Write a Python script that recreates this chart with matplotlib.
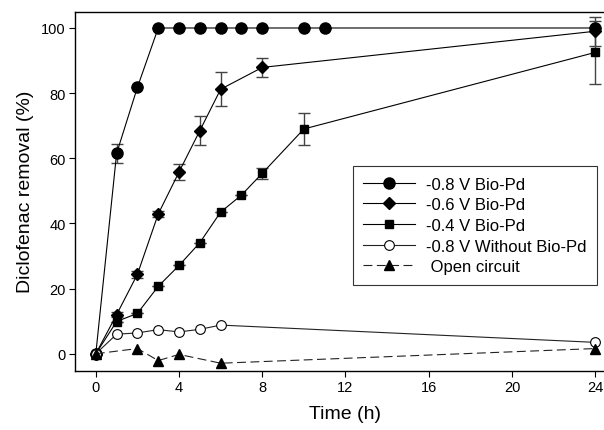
import numpy as np
import matplotlib
matplotlib.use("Agg")
import matplotlib.pyplot as plt

plt.rcParams['font.family'] = ['Liberation Sans', 'DejaVu Sans']

# data
t_08 = [0, 1, 2, 3, 4, 5, 6, 7, 8, 10, 11, 24]
y_08 = [0, 61.5, 81.8, 100, 100, 100, 100, 100, 100, 100, 100, 100]
e_08 = [0, 3.0, 0, 0, 0, 0, 0, 0, 0, 0, 0, 0]

t_06 = [0, 1, 2, 3, 4, 5, 6, 8, 24]
y_06 = [0, 12.0, 24.4, 42.9, 55.8, 68.5, 81.2, 87.9, 99.0]
e_06 = [0, 0.8, 1.0, 1.0, 2.4, 4.4, 5.2, 3.0, 4.5]

t_04 = [0, 1, 2, 3, 4, 5, 6, 7, 8, 10, 24]
y_04 = [0, 9.9, 12.4, 20.7, 27.1, 34.1, 43.5, 48.7, 55.4, 69.0, 92.5]
e_04 = [0, 0, 0, 0, 0, 0, 0, 0, 1.7, 4.8, 9.7]

t_nopd = [0, 1, 2, 3, 4, 5, 6, 24]
y_nopd = [0, 6.0, 6.4, 7.4, 6.7, 7.5, 8.8, 3.5]

t_oc = [0, 2, 3, 4, 6, 24]
y_oc = [0, 1.6, -2.1, -0.2, -2.9, 1.6]

labels = ['-0.8 V Bio-Pd', '-0.6 V Bio-Pd', '-0.4 V Bio-Pd',
          '-0.8 V Without Bio-Pd', ' Open circuit']

fig = plt.figure(figsize=(6.04, 4.31), dpi=100)
ax = fig.add_axes([75 / 604, 59.3 / 431, 541 / 604, 359 / 431])

ebar = dict(fmt='none', ecolor='#444444', elinewidth=1.0, capsize=4, capthick=1.0, zorder=2)
ax.errorbar(t_08, y_08, yerr=e_08, **ebar)
ax.errorbar(t_06, y_06, yerr=e_06, **ebar)
ax.errorbar(t_04, y_04, yerr=e_04, **ebar)

ax.plot(t_08, y_08, '-', color='black', lw=0.8, marker='o', ms=8, mfc='black', mec='black', label=labels[0], zorder=3)
ax.plot(t_06, y_06, '-', color='black', lw=0.8, marker='D', ms=6.5, mfc='black', mec='black', label=labels[1], zorder=3)
ax.plot(t_04, y_04, '-', color='black', lw=0.8, marker='s', ms=6, mfc='black', mec='black', label=labels[2], zorder=3)
ax.plot(t_nopd, y_nopd, '-', color='#222222', lw=0.8, marker='o', ms=7, mfc='white', mec='black', mew=0.8, label=labels[3], zorder=3)
ax.plot(t_oc, y_oc, '--', color='#222222', lw=0.8, dashes=(8, 4), marker='^', ms=7, mfc='black', mec='black', label=labels[4], zorder=3)

ax.set_xlim(-1, 25)
ax.set_ylim(-5.2, 105)
ax.set_xticks([0, 4, 8, 12, 16, 20, 24])
ax.set_yticks([0, 20, 40, 60, 80, 100])
ax.tick_params(direction='out', length=4, width=0.8, labelsize=10.5, pad=2.5)
for s in ax.spines.values():
    s.set_linewidth(1.0)

ax.set_xlabel('Time (h)', fontsize=14, labelpad=8)
ax.set_ylabel('Diclofenac removal (%)', fontsize=14, labelpad=5)

leg = ax.legend(loc='upper left', bbox_to_anchor=((353 - 75) / 541, 1 - (167 - 12.7) / 359),
                fontsize=12, frameon=True, fancybox=False, edgecolor='black',
                handlelength=3.1, handletextpad=0.65, labelspacing=0.34,
                borderpad=0.63, borderaxespad=0)
leg.get_frame().set_linewidth(0.8)

fig.savefig('out.png', dpi=100)
